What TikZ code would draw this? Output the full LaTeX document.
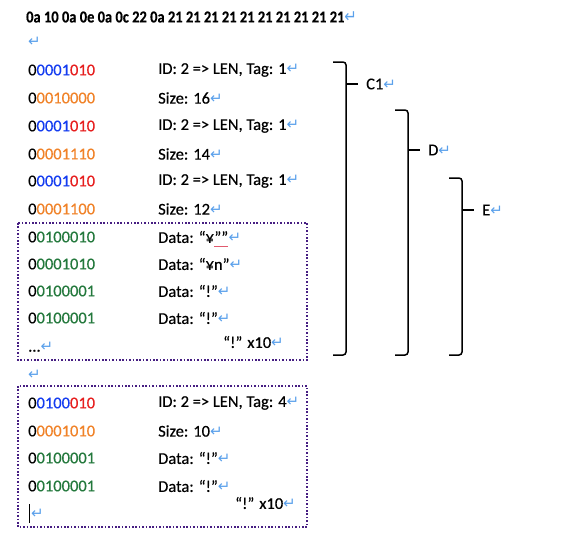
\documentclass[tikz,border=0pt]{standalone}
\usepackage{fontspec}
\setmainfont{Carlito}[FakeBold=0.4]
\newfontfamily\retfont{DejaVu Sans}
\usetikzlibrary{calc}
\definecolor{bitblue}{RGB}{20,60,240}
\definecolor{bitred}{RGB}{230,30,30}
\definecolor{bitorange}{RGB}{240,130,40}
\definecolor{bitgreen}{RGB}{35,120,60}
\definecolor{retblue}{RGB}{90,160,235}
\definecolor{boxpurple}{RGB}{70,30,130}
\definecolor{spellred}{RGB}{225,90,110}
\tikzset{
  bitcol/.style={anchor=west,inner sep=0pt,font=\fontsize{16.5}{18}\selectfont},
  txtcol/.style={anchor=west,inner sep=0pt,font=\fontsize{16.5}{18}\selectfont},
  headline/.style={anchor=west,inner sep=0pt,yscale=1.15,font=\bfseries\fontsize{14.5}{16}\selectfont},
  dotbox/.style={draw=boxpurple,line width=2.2pt,dash pattern=on 1.6pt off 1.8pt},
  bracket/.style={draw=black,line width=1.5pt,rounded corners=3pt},
}
\newcommand{\ret}{{\retfont\mdseries\fontsize{15}{15}\selectfont\color{retblue}↵}}
\newcommand{\tagbits}[2]{\textcolor{bitblue}{#1}\textcolor{bitred}{#2}}
\newcommand{\lenbits}[1]{\textcolor{bitorange}{#1}}
\newcommand{\databits}[1]{\textcolor{bitgreen}{#1}}
\newcommand{\brow}[4]{%
  \node[bitcol] (b#1) at (28,#2) {0#3};
  \node[txtcol] (t#1) at (158,#2) {#4\ret};}
\newcommand{\spanbrace}[5]{%
  \draw[bracket] (#1,#2) -- ({#1+13},#2) -- ({#1+13},355) -- (#1,355);
  \node[txtcol] (#4) at ({#1+33},#3) {#5\ret};
  \draw[bracket,shorten >=8pt] ({#1+13},#3) -- (#4.west);}

\begin{document}
\begin{tikzpicture}[x=1pt,y=-1pt]
        \useasboundingbox (0,0) rectangle (586,550);
        \node[headline] (hex) at (26,17) {0a 10 0a 0e 0a 0c 22 0a 21 21 21 21 21 21 21 21 21 21\ret};
        \node[txtcol] (blank1) at (28,42) {\ret};
        \brow{1}{70}{\tagbits{0001}{010}}{ID: 2 => LEN, Tag: 1}
        \brow{2}{98}{\lenbits{0010000}}{Size: 16}
        \brow{3}{126}{\tagbits{0001}{010}}{ID: 2 => LEN, Tag: 1}
        \brow{4}{154}{\lenbits{0001110}}{Size: 14}
        \brow{5}{181}{\tagbits{0001}{010}}{ID: 2 => LEN, Tag: 1}
        \brow{6}{209}{\lenbits{0001100}}{Size: 12}
        % first data block
        \node[bitcol] (b7) at (28,237) {0\databits{0100010}};
        \node[txtcol] (t7) at (158,237) {Data: “¥};
        \node[txtcol,anchor=base west] (q7) at (t7.base east) {””};
        \node[txtcol,anchor=base west] (r7) at (q7.base east) {\ret};
        \draw[spellred,line width=1.2pt] ($(q7.base west)+(0,4)$) -- ($(q7.base east)+(0,4)$);
        \brow{8}{264}{\databits{0001010}}{Data: “¥n”}
        \brow{9}{291}{\databits{0100001}}{Data: “!”}
        \brow{10}{318}{\databits{0100001}}{Data: “!”}
        \node[txtcol] (dots1) at (28,347) {...\ret};
        \node[txtcol] (rep1) at (223,342) {“!” x10\ret};
        \draw[dotbox] (18,223) rectangle (307,360);
        \node[txtcol] (blank2) at (28,375) {\ret};
        % second data block
        \brow{11}{403}{\tagbits{0100}{010}}{ID: 2 => LEN, Tag: 4}
        \brow{12}{431}{\lenbits{0001010}}{Size: 10}
        \brow{13}{458}{\databits{0100001}}{Data: “!”}
        \brow{14}{486}{\databits{0100001}}{Data: “!”}
        \node[txtcol] (rep2) at (235,503) {“!” x10\ret};
        \node[txtcol] (cur) at (31,514) {\ret};
        \draw[line width=1pt] (29,504) -- (29,523);
        \draw[dotbox] (18,386) rectangle (307,527);
        % spans
        \spanbrace{333}{62}{84}{c1}{C1}
        \spanbrace{395}{110}{150}{dd}{D}
        \spanbrace{449}{178}{210}{ee}{E}
      \end{tikzpicture}
\end{document}
